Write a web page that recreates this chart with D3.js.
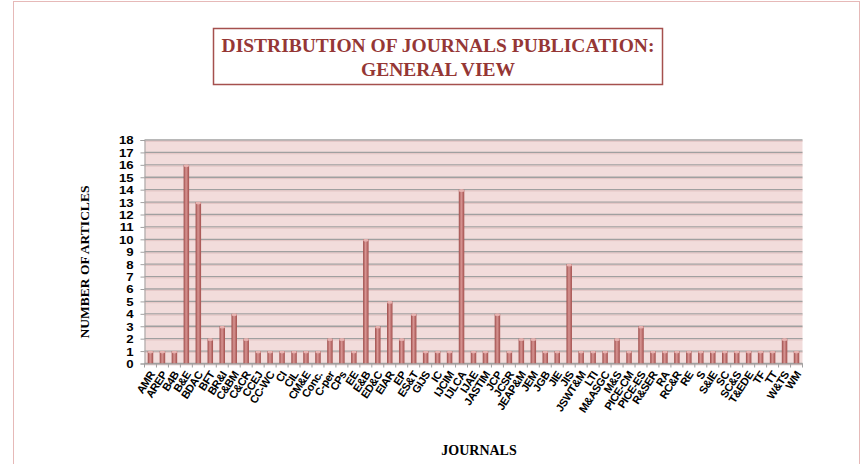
<!DOCTYPE html>
<html>
<head>
<meta charset="utf-8">
<script src="https://cdnjs.cloudflare.com/ajax/libs/d3/7.8.5/d3.min.js"></script>
<style>
  body { margin: 0; background: #fff; }
  svg text { font-family: "Liberation Sans", Arial, sans-serif; }
  .serif { font-family: "Liberation Serif", "DejaVu Serif", serif; }
</style>
</head>
<body>
<div id="wrapper"></div>
<script>
const journals = ['AMR','AREP','B4B','B&E','BDAC','BFT','BR&I','C&BM','C&CR','CCEJ','CC-WC','CI','CIL','CM&E','Conc.',
  'C-per','CPs','EE','E&B','ED&C','EIAR','EP','ES&T','GIJS','IC','IJCIM','IJLCA','IJAE','JASTIM','JCP','JCSR',
  'JEAP&M','JEM','JGB','JIE','JIS','JSWT&M','LTI','M&ASGC','M&S','PICE-CM','PICE-ES','R&SER','RA','RC&R','RE',
  'S','S&IE','SC','SC&S','T&EDE','TF','TT','W&TS','WM']
const articles = [1,1,1,16,13,2,3,4,2,1,1,1,1,1,1,
  2,2,1,10,3,5,2,4,1,1,1,14,1,1,4,1,
  2,2,1,1,8,1,1,1,2,1,3,1,1,1,1,
  1,1,1,1,1,1,1,2,1]
const yTicks = d3.range(0, 19)
const titleLines = ['DISTRIBUTION OF JOURNALS PUBLICATION:', 'GENERAL VIEW']

const width = 864
const height = 464
const plot = { left: 144.5, right: 802.5, top: 140, bottom: 363.5 }

const svg = d3.select('#wrapper')
  .append('svg')
    .attr('width', width)
    .attr('height', height)

// outer chart frame
svg.append('rect')
    .attr('x', 13.5).attr('y', 1.5)
    .attr('width', 846).attr('height', 480)
    .attr('fill', 'none')
    .attr('stroke', '#e6b9b8')

// gradient for the cylinder-like bars
const defs = svg.append('defs')
const grad = defs.append('linearGradient')
    .attr('id', 'barGrad')
    .attr('x1', '0%').attr('x2', '100%')
grad.append('stop').attr('offset', '0%').attr('stop-color', '#9c4a48')
grad.append('stop').attr('offset', '45%').attr('stop-color', '#d89593')
grad.append('stop').attr('offset', '100%').attr('stop-color', '#a34f4d')

// title
svg.append('rect')
    .attr('x', 213.5).attr('y', 28.5)
    .attr('width', 449).attr('height', 56)
    .attr('fill', '#fff')
    .attr('stroke', '#a5504e')
    .attr('stroke-width', 1.5)
svg.append('g').selectAll('text')
  .data(titleLines)
  .join('text')
    .attr('class', 'serif')
    .attr('x', 438)
    .attr('y', (d, i) => 52 + i * 24)
    .attr('text-anchor', 'middle')
    .attr('font-size', 19.5)
    .attr('font-weight', 'bold')
    .attr('fill', '#953735')
    .text(d => d)

// scales
const xScale = d3.scaleBand()
  .domain(journals)
  .range([plot.left, plot.right])

const yScale = d3.scaleLinear()
  .domain([0, 18])
  .range([plot.bottom, plot.top])

// plot background
svg.append('rect')
    .attr('x', plot.left).attr('y', plot.top)
    .attr('width', plot.right - plot.left)
    .attr('height', plot.bottom - plot.top)
    .attr('fill', '#f2dcdb')

// gridlines
svg.append('g').selectAll('line')
  .data(yTicks)
  .join('line')
    .attr('x1', plot.left).attr('x2', plot.right)
    .attr('y1', d => yScale(d)).attr('y2', d => yScale(d))
    .attr('stroke', '#a0a0a0')
    .attr('stroke-width', 1.3)
svg.append('g').selectAll('line')
  .data(yTicks)
  .join('line')
    .attr('x1', plot.left).attr('x2', plot.right)
    .attr('y1', d => yScale(d) + 1.3).attr('y2', d => yScale(d) + 1.3)
    .attr('stroke', '#e2c4c3')
    .attr('stroke-width', 1)

// bars
const barW = 5.5
const bars = svg.append('g')
bars.selectAll('rect')
  .data(articles)
  .join('rect')
    .attr('x', (d, i) => xScale(journals[i]) + xScale.bandwidth() / 2 - barW / 2)
    .attr('y', d => yScale(d))
    .attr('width', barW)
    .attr('height', d => yScale(0) - yScale(d))
    .attr('fill', 'url(#barGrad)')
bars.selectAll('ellipse')
  .data(articles)
  .join('ellipse')
    .attr('cx', (d, i) => xScale(journals[i]) + xScale.bandwidth() / 2)
    .attr('cy', d => yScale(d) + 1)
    .attr('rx', barW / 2)
    .attr('ry', 1.3)
    .attr('fill', '#e7b3b1')

// y axis
const yAxis = svg.append('g')
    .attr('transform', `translate(${plot.left},0)`)
    .call(d3.axisLeft(yScale).tickValues(yTicks).tickSize(4).tickPadding(5))
yAxis.select('.domain').attr('stroke', '#a0a0a0')
yAxis.selectAll('.tick line').attr('stroke', '#a0a0a0')
yAxis.selectAll('.tick text')
    .attr('font-size', 11)
    .attr('font-weight', 'bold')
    .attr('fill', '#000')
    .attr('dy', '0.36em')
    .attr('transform', 'scale(1.2,1)')

// x axis
const xAxis = svg.append('g')
    .attr('transform', `translate(0,${plot.bottom})`)
    .call(d3.axisBottom(xScale).tickSize(0).tickPadding(0))
xAxis.select('.domain').attr('stroke', '#a0a0a0')
xAxis.selectAll('.tick text')
    .attr('font-size', 11)
    .attr('font-weight', 'bold')
    .attr('fill', '#000')
    .attr('letter-spacing', -0.4)
    .attr('text-anchor', 'end')
    .attr('dy', 0)
    .attr('y', 0)
    .attr('transform', 'translate(5,11) rotate(-57)')

// tick marks at band boundaries
svg.append('g').selectAll('line')
  .data(d3.range(journals.length + 1))
  .join('line')
    .attr('x1', i => plot.left + i * xScale.step())
    .attr('x2', i => plot.left + i * xScale.step())
    .attr('y1', plot.bottom).attr('y2', plot.bottom + 4)
    .attr('stroke', '#a0a0a0')

// axis titles
svg.append('text')
    .attr('class', 'serif')
    .attr('transform', 'translate(89,262) rotate(-90)')
    .attr('text-anchor', 'middle')
    .attr('font-size', 13.5)
    .attr('font-weight', 'bold')
    .text('NUMBER OF ARTICLES')

svg.append('text')
    .attr('class', 'serif')
    .attr('x', 479)
    .attr('y', 455)
    .attr('text-anchor', 'middle')
    .attr('font-size', 14)
    .attr('font-weight', 'bold')
    .text('JOURNALS')
</script>
</body>
</html>
